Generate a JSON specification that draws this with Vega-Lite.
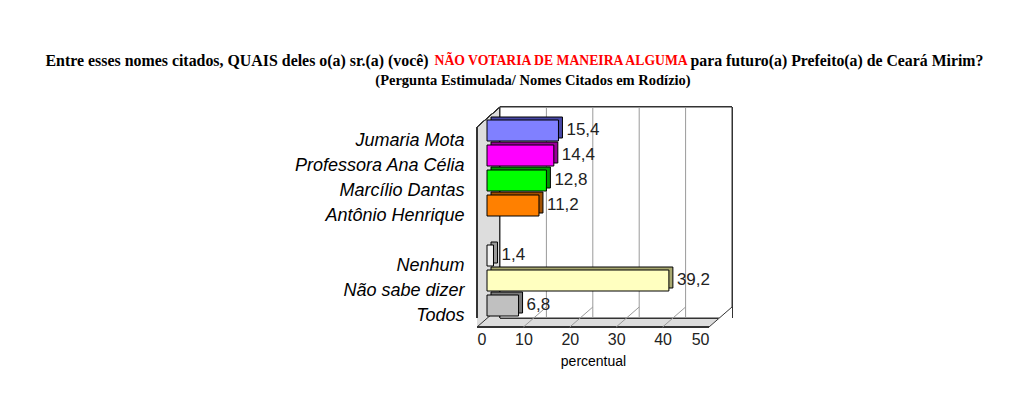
{
  "$schema": "https://vega.github.io/schema/vega-lite/v6.json",
  "width": 232,
  "height": 200,
  "autosize": {"type": "none"},
  "padding": {"left": 487, "top": 118, "right": 305, "bottom": 96},
  "background": "white",
  "title": {
    "text": "(Pergunta Estimulada/ Nomes Citados em Rodízio)",
    "anchor": "middle",
    "dx": -70,
    "offset": -43,
    "baseline": "middle",
    "font": "Liberation Serif",
    "fontSize": 14.5,
    "fontWeight": "bold",
    "color": "black"
  },
  "data": {
    "values": [
      {"nome": "Jumaria Mota", "pct": 15.4},
      {"nome": "Professora Ana Célia", "pct": 14.4},
      {"nome": "Marcílio Dantas", "pct": 12.8},
      {"nome": "Antônio Henrique", "pct": 11.2},
      {"nome": "Nenhum", "pct": 1.4},
      {"nome": "Não sabe dizer", "pct": 39.2},
      {"nome": "Todos", "pct": 6.8}
    ]
  },
  "resolve": {"scale": {"x": "independent", "y": "independent"}, "axis": {"x": "independent", "y": "independent"}},
  "layer": [
    {
      "layer": [
        {
          "mark": {"type": "rect", "fill": "#DDDDDD", "xOffset": -10, "x2Offset": 13, "yOffset": -11, "y2Offset": 9},
          "encoding": {"x": {"datum": 0}, "x2": {"datum": 0}}
        },
        {
          "mark": {"type": "rect", "fill": "#DDDDDD", "strokeWidth": 0, "xOffset": -10, "x2Offset": 13, "yOffset": -9, "y2Offset": 11},
          "encoding": {
            "x": {"datum": 0},
            "x2": {"datum": 50},
            "y": {"datum": "Todos", "bandPosition": 1},
            "y2": {"datum": "Todos", "bandPosition": 1}
          }
        },
        {
          "mark": {"type": "rect", "fill": "white", "stroke": "#333333", "strokeWidth": 1, "xOffset": 13, "x2Offset": 13, "yOffset": -11, "y2Offset": -11},
          "encoding": {"x": {"datum": 0}, "x2": {"datum": 50}}
        },
        {
          "mark": {"type": "point", "shape": "M -1 -0.86 L 1 -0.86 L -1 0.86 Z", "size": 545, "filled": true, "fill": "white", "opacity": 1, "strokeWidth": 0, "xOffset": 1.4, "yOffset": -3},
          "encoding": {"x": {"datum": 0}, "y": {"datum": "Jumaria Mota", "bandPosition": 0}}
        },
        {
          "mark": {"type": "point", "shape": "M 1 -0.87 L 1 0.87 L -1 0.87 Z", "size": 529, "filled": true, "fill": "white", "opacity": 1, "strokeWidth": 0, "xOffset": 1.5, "yOffset": 1},
          "encoding": {"x": {"datum": 50}, "y": {"datum": "Todos", "bandPosition": 1}}
        },
        {
          "data": {"values": [{"g": 10}, {"g": 20}, {"g": 30}, {"g": 40}]},
          "mark": {"type": "rule", "stroke": "#9A9A9A", "strokeWidth": 1, "xOffset": 13, "x2Offset": 13, "yOffset": -11, "y2Offset": -11},
          "encoding": {"x": {"field": "g", "type": "quantitative"}}
        },
        {
          "mark": {"type": "rule", "stroke": "#333333", "strokeWidth": 1, "xOffset": -10, "yOffset": 9, "y2Offset": 9},
          "encoding": {"x": {"datum": 0}}
        },
        {
          "mark": {"type": "rule", "stroke": "#333333", "strokeWidth": 1, "xOffset": -10, "x2Offset": 13, "yOffset": 7, "y2Offset": -13},
          "encoding": {
            "x": {"datum": 0},
            "x2": {"datum": 0},
            "y": {"datum": "Jumaria Mota", "bandPosition": 0},
            "y2": {"datum": "Jumaria Mota", "bandPosition": 0}
          }
        },
        {
          "mark": {"type": "rule", "stroke": "#333333", "strokeWidth": 1, "xOffset": -10, "x2Offset": -10, "yOffset": 11},
          "encoding": {
            "x": {"datum": 0},
            "x2": {"datum": 50},
            "y": {"datum": "Todos", "bandPosition": 1}
          }
        },
        {
          "data": {"values": [{"g": 10}, {"g": 20}, {"g": 30}, {"g": 40}]},
          "mark": {"type": "rule", "stroke": "#9A9A9A", "strokeWidth": 1, "xOffset": -10, "x2Offset": 13, "yOffset": 11, "y2Offset": -9},
          "encoding": {
            "x": {"field": "g", "type": "quantitative"},
            "x2": {"field": "g"},
            "y": {"datum": "Todos", "bandPosition": 1},
            "y2": {"datum": "Todos", "bandPosition": 1}
          }
        },
        {
          "data": {"values": [{"g": 0}, {"g": 50}]},
          "mark": {"type": "rule", "stroke": "#333333", "strokeWidth": 1, "xOffset": -10, "x2Offset": 13, "yOffset": 11, "y2Offset": -9},
          "encoding": {
            "x": {"field": "g", "type": "quantitative"},
            "x2": {"field": "g"},
            "y": {"datum": "Todos", "bandPosition": 1},
            "y2": {"datum": "Todos", "bandPosition": 1}
          }
        },
        {
          "mark": {"type": "bar", "stroke": "black", "strokeWidth": 1, "xOffset": 4, "x2Offset": 4, "yOffset": -3, "y2Offset": -3},
          "encoding": {
            "x": {"field": "pct", "type": "quantitative"},
            "y": {"field": "nome", "type": "nominal"},
            "fill": {
              "field": "nome",
              "type": "nominal",
              "scale": {
                "domain": ["Jumaria Mota", "Professora Ana Célia", "Marcílio Dantas", "Antônio Henrique", "Nenhum", "Não sabe dizer", "Todos"],
                "range": ["#4848A8", "#990099", "#009900", "#A05000", "#9A9A9A", "#A8A870", "#7A7A7A"]
              },
              "legend": null
            }
          }
        },
        {
          "mark": {"type": "bar", "stroke": "black", "strokeWidth": 1},
          "encoding": {
            "x": {
              "field": "pct",
              "type": "quantitative",
              "scale": {"domain": [0, 50], "nice": false, "zero": true},
              "axis": {
                "values": [0, 10, 20, 30, 40, 50],
                "domain": false,
                "ticks": false,
                "grid": false,
                "labelOffset": -10,
                "labelPadding": 13,
                "labelFont": "Liberation Sans",
                "labelFontSize": 16,
                "labelColor": "#222222",
                "title": "percentual",
                "titleX": 106,
                "titleY": 43,
                "titleAlign": "center",
                "titleBaseline": "middle",
                "titleFont": "Liberation Sans",
                "titleFontSize": 14,
                "titleFontWeight": "normal",
                "titleColor": "black"
              }
            },
            "y": {
              "field": "nome",
              "type": "nominal",
              "scale": {
                "domain": ["Jumaria Mota", "Professora Ana Célia", "Marcílio Dantas", "Antônio Henrique", " ", "Nenhum", "Não sabe dizer", "Todos"],
                "paddingInner": 0.16,
                "paddingOuter": 0.08
              },
              "axis": {
                "orient": "left",
                "domain": false,
                "ticks": false,
                "grid": false,
                "labelOffset": 10,
                "labelPadding": 23,
                "labelFont": "Liberation Sans",
                "labelFontStyle": "italic",
                "labelFontSize": 18,
                "labelColor": "black",
                "labelExpr": "datum.value == 'Antônio Henrique' || datum.value == 'Não sabe dizer' ? datum.value + '\u00a0\u00a0' : datum.value == 'Professora Ana Célia' ? datum.value + '\u00a0' : datum.value",
                "title": "Entre esses nomes citados, QUAIS deles o(a) sr.(a) (você)",
                "titleAngle": 0,
                "titleX": -442,
                "titleY": -58,
                "titleAlign": "left",
                "titleBaseline": "middle",
                "titleFont": "Liberation Serif",
                "titleFontSize": 15.9,
                "titleFontWeight": "bold",
                "titleColor": "black"
              }
            },
            "color": {
              "field": "nome",
              "type": "nominal",
              "scale": {
                "domain": ["Jumaria Mota", "Professora Ana Célia", "Marcílio Dantas", "Antônio Henrique", "Nenhum", "Não sabe dizer", "Todos"],
                "range": ["#8080FF", "#FF00FF", "#00FF00", "#FF8000", "#F2F2F2", "#FFFFC0", "#C0C0C0"]
              },
              "legend": null
            }
          }
        }
      ]
    },
    {
      "mark": {"type": "text", "align": "left", "baseline": "middle", "dx": 8, "dy": -1, "font": "Liberation Sans", "fontSize": 17, "color": "#222222"},
      "encoding": {
        "x": {
          "field": "pct",
          "type": "quantitative",
          "scale": {"domain": [0, 50], "nice": false, "zero": true},
          "axis": {
            "orient": "top",
            "domain": false,
            "ticks": false,
            "labels": false,
            "grid": false,
            "title": "para futuro(a) Prefeito(a) de Ceará Mirim?",
            "titleX": 203,
            "titleY": -58,
            "titleAlign": "left",
            "titleBaseline": "middle",
            "titleFont": "Liberation Serif",
            "titleFontSize": 15.8,
            "titleFontWeight": "bold",
            "titleColor": "black"
          }
        },
        "y": {
          "field": "nome",
          "type": "nominal",
          "scale": {
            "domain": ["Jumaria Mota", "Professora Ana Célia", "Marcílio Dantas", "Antônio Henrique", " ", "Nenhum", "Não sabe dizer", "Todos"],
            "paddingInner": 0.16,
            "paddingOuter": 0.08
          },
          "axis": {
            "orient": "right",
            "domain": false,
            "ticks": false,
            "labels": false,
            "grid": false,
            "title": "NÃO VOTARIA DE MANEIRA ALGUMA",
            "titleAngle": 0,
            "titleX": -285,
            "titleY": -58,
            "titleAlign": "left",
            "titleBaseline": "middle",
            "titleFont": "Liberation Serif",
            "titleFontSize": 13.7,
            "titleFontWeight": "bold",
            "titleColor": "#FF0000"
          }
        },
        "text": {"field": "pct", "type": "quantitative", "format": ".1f"}
      }
    }
  ],
  "config": {
    "view": {"stroke": null},
    "locale": {
      "number": {"decimal": ",", "thousands": ".", "grouping": [3], "currency": ["R$", ""]}
    }
  }
}
